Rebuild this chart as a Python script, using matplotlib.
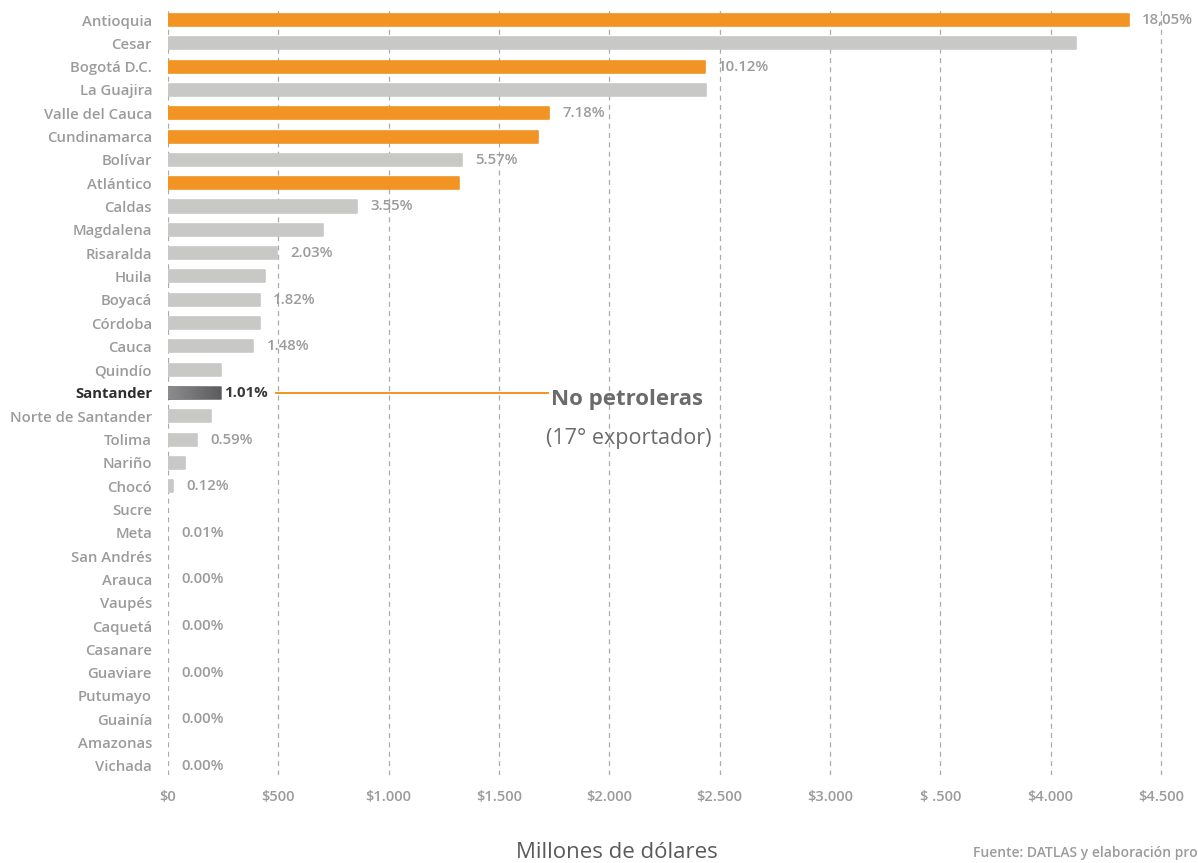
import numpy as np
import matplotlib
matplotlib.use("Agg")
import matplotlib.pyplot as plt

plt.rcParams['font.family'] = ['Open Sans', 'DejaVu Sans']

# Exportaciones por departamento (millones de dólares)
departamentos = ["Antioquia", "Cesar", "Bogotá D.C.", "La Guajira", "Valle del Cauca",
                 "Cundinamarca", "Bolívar", "Atlántico", "Caldas", "Magdalena",
                 "Risaralda", "Huila", "Boyacá", "Córdoba", "Cauca", "Quindío",
                 "Santander", "Norte de Santander", "Tolima", "Nariño", "Chocó",
                 "Sucre", "Meta", "San Andrés", "Arauca", "Vaupés", "Caquetá",
                 "Casanare", "Guaviare", "Putumayo", "Guainía", "Amazonas", "Vichada"]
valores = [4354, 4116, 2434, 2436, 1727, 1679, 1334, 1319, 858, 702,
           495, 438, 415, 415, 386, 238, 238, 193, 132, 79, 24,
           0, 0, 0, 0, 0, 0, 0, 0, 0, 0, 0, 0]
# departamentos no petroleros resaltados
resaltados = ["Antioquia", "Bogotá D.C.", "Valle del Cauca", "Cundinamarca", "Atlántico"]
# participación mostrada en filas alternas
participacion = ["18,05%", "", "10.12%", "", "7.18%", "", "5.57%", "", "3.55%", "",
                 "2.03%", "", "1.82%", "", "1.48%", "", "1.01%", "", "0.59%", "",
                 "0.12%", "", "0.01%", "", "0.00%", "", "0.00%", "", "0.00%", "",
                 "0.00%", "", "0.00%"]
ticks_x = [0, 500, 1000, 1500, 2000, 2500, 3000, 3500, 4000, 4500]
ticks_lbl = ["$0", "$500", "$1.000", "$1.500", "$2.000", "$2.500", "$3.000",
             "$ .500", "$4.000", "$4.500"]

NARANJA = "#F29423"
GRIS = "#C8C8C6"
TEXTO = "#9B9B9B"

fig = plt.figure(figsize=(11.98, 8.63), dpi=100)
ax = fig.add_axes([168 / 1198, 1 - 775 / 863, (1183 - 168) / 1198, 765 / 863])

y = np.arange(len(departamentos))
colores = [NARANJA if d in resaltados else GRIS for d in departamentos]
anchos_borde = [1.2 if v > 0 else 0 for v in valores]
barras = ax.barh(y, valores, height=0.52, color=colores, edgecolor=colores,
                 linewidth=anchos_borde, joinstyle="round", zorder=3)

# Santander con degradado gris
i_san = departamentos.index("Santander")
b = barras[i_san]
b.set_facecolor("#707070")
b.set_edgecolor("#707070")
grad = np.linspace(0, 1, 256).reshape(1, -1)
im = ax.imshow(grad, extent=(0, valores[i_san], i_san + 0.26, i_san - 0.26),
               cmap=matplotlib.colors.LinearSegmentedColormap.from_list(
                   "g", ["#8d8d8f", "#5c5c5e"]),
               aspect="auto", zorder=4)
im.set_clip_path(b)

# etiquetas de participación
for i, (v, txt) in enumerate(zip(valores, participacion)):
    if not txt:
        continue
    if i == i_san:
        ax.annotate(txt, (v, i), xytext=(2.5, 0), textcoords="offset points",
                    va="center", ha="left", fontsize=10.8, fontweight="bold",
                    color="#3a3a3a", zorder=5)
    else:
        ax.annotate(txt, (v, i), xytext=(9.5, 0), textcoords="offset points",
                    va="center", ha="left", fontsize=10.8, fontweight="semibold",
                    color=TEXTO, zorder=5)

# línea hacia la nota de Santander
ax.plot([489, 1723], [i_san, i_san], color=NARANJA, lw=1.4, zorder=2)
ax.text(2082, i_san + 0.3, "No petroleras", ha="center", va="center",
        fontsize=16, fontweight="bold", color="#6b6b6b", zorder=5)
ax.text(2086, i_san + 1.95, "(17° exportador)", ha="center", va="center",
        fontsize=15.5, color="#6b6b6b", zorder=5)

ax.set_xlim(0, 4600)
ax.set_ylim(32.39, -0.43)
ax.set_xticks(ticks_x)
ax.set_xticklabels(ticks_lbl)
ax.set_yticks(y)
ax.set_yticklabels(departamentos)
for lbl, d in zip(ax.get_yticklabels(), departamentos):
    if d == "Santander":
        lbl.set_color("#2e2e2e")
        lbl.set_fontweight("bold")
    else:
        lbl.set_color(TEXTO)
        lbl.set_fontweight("semibold")
    lbl.set_fontsize(10.7)
for lbl in ax.get_xticklabels():
    lbl.set_color(TEXTO)
    lbl.set_fontweight("semibold")
    lbl.set_fontsize(10.5)
ax.tick_params(axis="both", length=0)
ax.tick_params(axis="y", pad=11.5)
ax.tick_params(axis="x", pad=11)
ax.grid(axis="x", color="#ababab", linestyle=(0, (4, 3.5)), linewidth=0.9, zorder=0)
ax.set_axisbelow(True)
for s in ax.spines.values():
    s.set_visible(False)

fig.text(617 / 1198, 1 - 852 / 863, "Millones de dólares", ha="center", va="center",
         fontsize=16, color="#5a5a5a")
fig.text(973 / 1198, 1 - 853 / 863, "Fuente: DATLAS y elaboración propia", ha="left",
         va="center", fontsize=10, fontweight="semibold", color=TEXTO)

fig.savefig("out.png", dpi=100)
